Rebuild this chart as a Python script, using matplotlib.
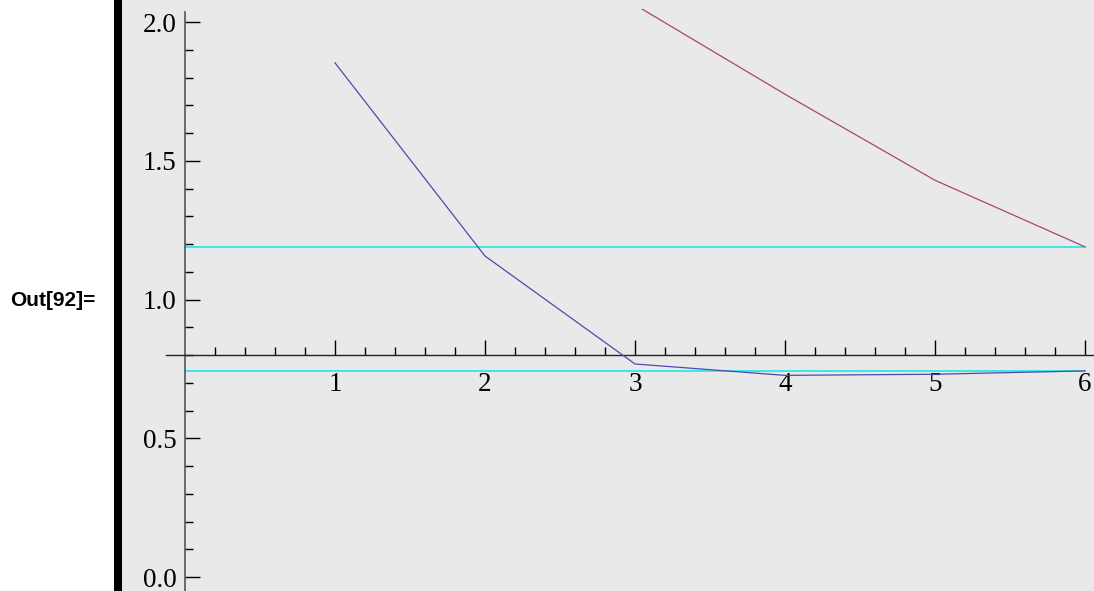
import matplotlib
matplotlib.use("Agg")
import matplotlib.pyplot as plt
from matplotlib.patches import Rectangle
from matplotlib.ticker import FixedLocator
import numpy as np

# data
x_blue = [1, 2, 3, 4, 5, 6]
y_blue = [1.853, 1.157, 0.768, 0.727, 0.731, 0.743]
x_purple = [3, 4, 5, 6]
y_purple = [2.062, 1.74, 1.43, 1.19]
cyan_levels = [1.19, 0.742]
x_ticks = [1, 2, 3, 4, 5, 6]
y_ticks = [0.0, 0.5, 1.0, 1.5, 2.0]
out_label = "Out[92]="

W, H = 1094, 591
fig = plt.figure(figsize=(W / 100, H / 100), dpi=100)
fig.patch.set_facecolor("white")

left = 122 / W
top = 9.3 / H
# gray panel behind the whole graphic
fig.add_artist(Rectangle((left, 0), 1 - left, 1, transform=fig.transFigure,
                         facecolor="#e9e9e9", edgecolor="none", zorder=0))
ax = fig.add_axes([left, 0, 1 - left, 1 - top])
ax.set_facecolor("#e9e9e9")
ax.set_xlim(-0.42, 6.06)
ax.set_ylim(-0.05, 2.046)

# black bracket bar on the left of the output cell
fig.add_artist(Rectangle((114 / W, 0), 8 / W, 1, transform=fig.transFigure,
                         facecolor="black", edgecolor="none"))
fig.text(53 / W, 1 - 300 / H, out_label, fontsize=15, fontweight="bold",
         family="Liberation Sans", ha="center", va="center")

for c in cyan_levels:
    ax.plot([0, 6], [c, c], color="#10e6e6", lw=1.1, zorder=2)
ax.plot(x_blue, y_blue, color="#4b4bb0", lw=0.9, zorder=3)
ax.plot(x_purple, y_purple, color="#a8447a", lw=0.9, zorder=3)

# axes crossing at (0, 0.8) like Mathematica
for s in ["top", "right"]:
    ax.spines[s].set_visible(False)
ax.spines["left"].set_position(("data", 0))
ax.spines["left"].set_bounds(-0.05, 2.035)
ax.spines["left"].set_color("#555555")
ax.spines["left"].set_linewidth(1.2)
ax.spines["bottom"].set_position(("data", 0.8))
ax.spines["bottom"].set_bounds(-0.13, 6.06)
ax.spines["bottom"].set_color("#222222")
ax.spines["bottom"].set_linewidth(1.0)

ax.set_xticks(x_ticks)
ax.set_yticks(y_ticks)
ax.set_xticklabels([str(t) for t in x_ticks])
ax.set_yticklabels([f"{t:.1f}" for t in y_ticks])
ax.xaxis.set_minor_locator(FixedLocator([round(v, 1) for v in np.arange(0.2, 6, 0.2) if abs(v - round(v)) > 0.01]))
ax.yaxis.set_minor_locator(FixedLocator([round(v, 1) for v in np.arange(0.1, 2.0, 0.1) if abs(v * 2 - round(v * 2)) > 0.01]))
ax.tick_params(axis="both", which="both", direction="in", colors="black", width=1.0)
ax.tick_params(axis="both", which="major", length=11, labelsize=19.5)
ax.tick_params(axis="x", which="major", pad=12)
ax.tick_params(axis="y", which="major", pad=6)
ax.tick_params(axis="both", which="minor", length=6)
for lab in ax.get_xticklabels() + ax.get_yticklabels():
    lab.set_family("Liberation Serif")

fig.savefig("out.png", dpi=100)
